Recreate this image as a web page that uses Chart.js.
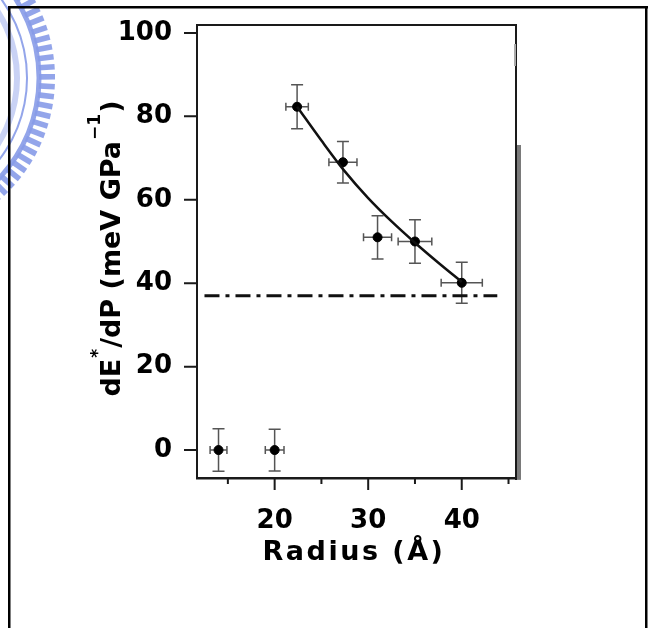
<!DOCTYPE html>
<html>
<head>
<meta charset="utf-8">
<script src="https://cdn.jsdelivr.net/npm/chart.js@4"></script>
<style>
  html, body { margin: 0; padding: 0; background: #fff; }
  #wrap { position: absolute; left: 0; top: 0; width: 653px; height: 628px; }
</style>
</head>
<body>
<div id="wrap"><canvas id="chart" width="653" height="628"></canvas></div>
<script>
// measured points: radius (Å) vs dE*/dP (meV/GPa)
const radius = [14, 20, 22.4, 27.3, 31, 35, 40];
const slope = [0, 0, 82.3, 69, 51, 50, 40.1];
const radiusErr = [0.9, 1.0, 1.2, 1.5, 1.5, 1.8, 2.2];
const slopeErr = [5.1, 5, 5.3, 5, 5.2, 5.2, 4.9];

// fitted curve through the larger particles
const fitRadius = [22.4, 25, 27.5, 30, 32.5, 35, 37.5, 40];
const fitSlope = [82.3, 74.2, 66.8, 60.4, 54.8, 49.7, 44.9, 40.3];

// bulk value (dash-dot line)
const bulkRadius = [12.5, 43.8];
const bulkSlope = 37;

const yTicks = [0, 20, 40, 60, 80, 100];
const xLabelled = [20, 30, 40];

const FONT = "'DejaVu Sans', 'Liberation Sans', sans-serif";

function pts(xs, ys) {
    return xs.map((x, i) => ({ x: x, y: Array.isArray(ys) ? ys[i] : ys }));
}

// light blue seal in the top left corner, behind the plot
const sealPlugin = {
    id: 'seal',
    beforeDraw(chart) {
        const ctx = chart.ctx;
        const cx = -107, cy = 78;
        ctx.save();
        ctx.fillStyle = 'rgba(135, 155, 232, 0.9)';
        ctx.strokeStyle = 'rgba(135, 155, 232, 0.9)';
        // band under the teeth
        ctx.lineWidth = 5;
        ctx.beginPath();
        ctx.arc(cx, cy, 146, -1.0, 1.0);
        ctx.stroke();
        // thin inner rings
        ctx.lineWidth = 2;
        ctx.beginPath();
        ctx.arc(cx, cy, 134, -1.0, 1.0);
        ctx.stroke();
        ctx.strokeStyle = 'rgba(135, 155, 232, 0.45)';
        ctx.lineWidth = 6;
        ctx.beginPath();
        ctx.arc(cx, cy, 124, -1.0, 1.0);
        ctx.stroke();
        // teeth
        ctx.fillStyle = 'rgba(135, 155, 232, 0.9)';
        for (let a = -1.0; a <= 1.0; a += 0.062) {
            ctx.save();
            ctx.translate(cx, cy);
            ctx.rotate(a);
            ctx.fillRect(146, -2.8, 16, 5.6);
            ctx.restore();
        }
        ctx.restore();
    }
};

// x and y error bars for the measured points
const errorBarPlugin = {
    id: 'errorBars',
    beforeDatasetsDraw(chart) {
        const ctx = chart.ctx;
        const xs = chart.scales.x, ys = chart.scales.y;
        ctx.save();
        ctx.strokeStyle = '#555';
        ctx.lineWidth = 1.5;
        radius.forEach((r, i) => {
            const px = xs.getPixelForValue(r);
            const py = ys.getPixelForValue(slope[i]);
            const x0 = xs.getPixelForValue(r - radiusErr[i]);
            const x1 = xs.getPixelForValue(r + radiusErr[i]);
            const y0 = ys.getPixelForValue(slope[i] - slopeErr[i]);
            const y1 = ys.getPixelForValue(slope[i] + slopeErr[i]);
            ctx.beginPath();
            ctx.moveTo(px, y0); ctx.lineTo(px, y1);
            ctx.moveTo(px - 6, y0); ctx.lineTo(px + 6, y0);
            ctx.moveTo(px - 6, y1); ctx.lineTo(px + 6, y1);
            ctx.moveTo(x0, py); ctx.lineTo(x1, py);
            ctx.moveTo(x0, py - 4); ctx.lineTo(x0, py + 4);
            ctx.moveTo(x1, py - 4); ctx.lineTo(x1, py + 4);
            ctx.stroke();
        });
        ctx.restore();
    }
};

// box, tick marks, titles and outer frame
const framePlugin = {
    id: 'frame',
    afterDraw(chart) {
        const ctx = chart.ctx;
        const a = chart.chartArea;
        const xs = chart.scales.x, ys = chart.scales.y;
        ctx.save();
        ctx.fillStyle = '#1a1a1a';
        // plot box
        ctx.fillRect(a.left - 1, a.top - 1, a.right - a.left + 2, 2);
        ctx.fillRect(a.left - 1, a.top - 1, 2, a.bottom - a.top + 2);
        ctx.fillRect(a.right - 1, a.top - 1, 2, a.bottom - a.top + 3);
        ctx.fillRect(a.left - 1, a.bottom - 1, a.right - a.left + 6, 2.5);
        ctx.fillStyle = '#7a7a7a';
        ctx.fillRect(a.right + 1, 145, 4, a.bottom - 145 + 1);
        ctx.fillStyle = '#aaa';
        ctx.fillRect(a.right - 2, 44, 2, 22);

        // tick marks
        ctx.strokeStyle = '#1a1a1a';
        ctx.lineWidth = 2;
        ctx.beginPath();
        ys.ticks.forEach(t => {
            const p = ys.getPixelForValue(t.value);
            ctx.moveTo(a.left - 13, p); ctx.lineTo(a.left, p);
        });
        xs.ticks.forEach(t => {
            const p = xs.getPixelForValue(t.value);
            const len = xLabelled.includes(t.value) ? 12 : 6;
            ctx.moveTo(p, a.bottom); ctx.lineTo(p, a.bottom + len);
        });
        ctx.stroke();

        // y title with superscripts
        ctx.fillStyle = '#000';
        ctx.translate(120, 248);
        ctx.rotate(-Math.PI / 2);
        const big = 'bold 27px ' + FONT, small = 'bold 17px ' + FONT;
        const parts = [
            ['dE', big, 0], ['*', small, -17], ['/dP (meV GPa', big, 0],
            ['\u22121', small, -20], [')', big, 0]
        ];
        const gap = 1;
        let total = 0;
        parts.forEach(p => { ctx.font = p[1]; total += ctx.measureText(p[0]).width + gap; });
        let x = -total / 2;
        ctx.textBaseline = 'alphabetic';
        ctx.textAlign = 'left';
        parts.forEach(p => {
            ctx.font = p[1];
            ctx.fillText(p[0], x, p[2]);
            x += ctx.measureText(p[0]).width + gap;
        });
        ctx.restore();

        // x title
        ctx.save();
        ctx.fillStyle = '#000';
        ctx.font = 'bold 27px ' + FONT;
        if ('letterSpacing' in ctx) ctx.letterSpacing = '2.5px';
        ctx.textAlign = 'center';
        ctx.textBaseline = 'alphabetic';
        ctx.fillText('Radius (\u00C5)', 354, 560);
        ctx.restore();

        // outer frame
        ctx.save();
        ctx.fillStyle = '#000';
        ctx.fillRect(8, 6, 640, 2.5);
        ctx.fillRect(8, 6, 2.5, 622);
        ctx.fillRect(645, 6, 2.5, 622);
        ctx.restore();
    }
};

new Chart(document.getElementById('chart'), {
    type: 'scatter',
    data: {
        datasets: [
            {
                label: 'fit',
                data: pts(fitRadius, fitSlope),
                showLine: true,
                borderColor: '#111',
                borderWidth: 2.5,
                pointRadius: 0,
                cubicInterpolationMode: 'monotone'
            },
            {
                label: 'bulk',
                data: pts(bulkRadius, bulkSlope),
                showLine: true,
                borderColor: '#111',
                borderWidth: 3,
                borderDash: [15, 6, 4, 6],
                pointRadius: 0
            },
            {
                label: 'measured',
                data: pts(radius, slope),
                backgroundColor: '#000',
                borderColor: '#000',
                pointRadius: 4.5
            }
        ]
    },
    options: {
        responsive: false,
        animation: false,
        layout: { padding: { left: 0, top: 25, right: 137, bottom: 0 } },
        plugins: { legend: { display: false }, tooltip: { enabled: false } },
        scales: {
            x: {
                type: 'linear',
                min: 11.7,
                max: 45.8,
                afterFit(scale) { scale.height = 150; },
                grid: { display: false, drawTicks: false },
                border: { display: false },
                ticks: {
                    stepSize: 5,
                    includeBounds: false,
                    maxRotation: 0,
                    autoSkip: false,
                    padding: 28,
                    color: '#000',
                    font: { family: FONT, weight: 'bold', size: 26 },
                    callback: v => xLabelled.includes(v) ? String(v) : ''
                }
            },
            y: {
                type: 'linear',
                min: -6.7,
                max: 101.9,
                afterFit(scale) {
                    scale.width = 197;
                    scale.paddingTop = 0;
                    scale.paddingBottom = 0;
                },
                afterBuildTicks(scale) { scale.ticks = yTicks.map(v => ({ value: v })); },
                grid: { display: false, drawTicks: false },
                border: { display: false },
                ticks: {
                    padding: 25,
                    color: '#000',
                    font: { family: FONT, weight: 'bold', size: 26 }
                }
            }
        }
    },
    plugins: [sealPlugin, errorBarPlugin, framePlugin]
});
</script>
</body>
</html>
